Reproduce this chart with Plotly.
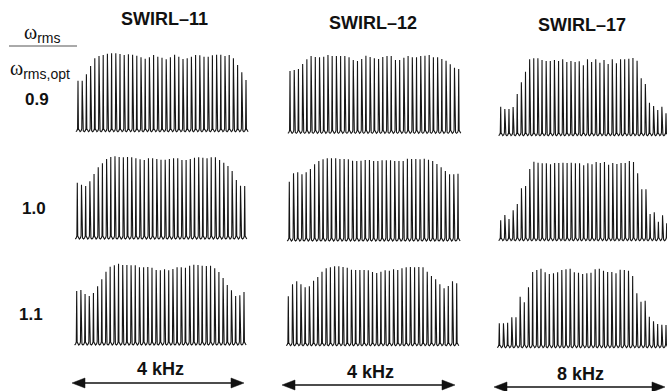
import plotly.graph_objects as go

# ---------------- data: peak amplitudes (a.u.) ----------------
columns = ["SWIRL–11", "SWIRL–12", "SWIRL–17"]
ratios = ["0.9", "1.0", "1.1"]
spans = ["4 kHz", "4 kHz", "8 kHz"]

swirl11_r09 = [153,153,172,197,220,227,230,234,235,235,233,230,232,231,228,223,219,223,230,225,
               222,217,223,231,225,218,220,225,230,229,225,225,229,231,231,227,230,220,200,178,155]
swirl12_r09 = [187,190,193,208,222,232,229,228,230,235,232,232,232,232,228,220,217,223,233,229,
               225,223,229,232,232,220,220,227,232,228,228,232,233,235,228,228,223,218,207,197,193]
swirl17_r09 = [87,80,80,86,125,160,192,229,232,232,227,224,224,227,224,229,221,224,221,223,
               211,229,221,229,219,227,215,229,217,229,229,231,233,225,172,155,99,89,77,87,67]
swirl11_r10 = [169,163,159,173,195,215,227,240,246,248,246,245,246,245,242,239,237,242,242,240,
               238,238,240,242,242,237,237,240,244,245,244,242,245,245,237,229,219,204,177,160,159]
swirl12_r10 = [178,203,206,200,206,216,230,240,245,248,248,248,246,246,245,241,240,241,243,243,
               240,240,242,242,242,240,240,240,247,246,246,245,247,244,240,231,221,210,200,200,202]
swirl17_r10 = [61,77,65,91,110,157,164,215,237,234,232,232,229,233,233,234,233,234,232,232,
               226,232,229,236,233,236,228,233,230,233,233,239,236,202,154,154,80,85,57,76,52]
swirl11_r11 = [162,165,153,147,156,176,197,220,235,239,244,240,240,239,239,233,233,234,232,225,
               224,227,224,228,233,233,232,238,241,240,238,237,238,230,219,201,180,164,147,149,159]
swirl12_r11 = [148,184,193,184,175,178,195,206,222,232,235,238,238,236,234,228,227,227,227,226,
               221,218,222,226,225,229,227,232,235,236,235,236,235,222,209,199,184,172,179,193,187]
swirl17_r11 = [73,73,75,91,91,153,136,181,227,233,237,226,221,223,226,233,235,237,226,225,
               221,223,225,235,237,231,227,227,223,234,233,231,215,163,138,141,93,79,71,69,68]

spectra = [
    [swirl11_r09, swirl12_r09, swirl17_r09],
    [swirl11_r10, swirl12_r10, swirl17_r10],
    [swirl11_r11, swirl12_r11, swirl17_r11],
]

# ---------------- layout geometry (pixels in the 667x391 page) ----------------
W, H = 667, 391
# (first-peak x, last-peak x, baseline y) per [row][col]
panel_px = [
    [(78.0, 246.0, 131.7), (290.0, 458.7, 133.3), (500.7, 666.0, 135.7)],
    [(77.3, 244.7, 239.0), (289.3, 458.0, 241.0), (500.7, 666.7, 240.7)],
    [(76.7, 244.0, 345.0), (288.3, 456.7, 345.7), (499.3, 666.0, 347.7)],
]
UNITS_PER_PX = 3.0
Y_LO, Y_HI = -6.0, 262.0


def spectrum_xy(heights):
    """Draw each peak of the comb as a narrow spike on a slightly rippled baseline."""
    xs, ys = [], []
    for i, h in enumerate(heights):
        xs += [i - 0.5, i - 0.25, i - 0.1, i, i + 0.1, i + 0.25]
        ys += [0, 3, 9, h, 9, 3]
    xs.append(len(heights) - 0.5)
    ys.append(0)
    return xs, ys


def px(x, y):
    return x / W, 1 - y / H


fig = go.Figure()
layout_axes = {}
k = 0
for r in range(3):
    for c in range(3):
        k += 1
        heights = spectra[r][c]
        L, R, base = panel_px[r][c]
        n = len(heights)
        s = (R - L) / (n - 1)
        d0 = max(L - 4, 0)
        d1 = min(R + 4, W)
        xr = [(d0 - L) / s, (d1 - L) / s]
        top_px = base - Y_HI / UNITS_PER_PX
        bot_px = base - Y_LO / UNITS_PER_PX
        xs, ys = spectrum_xy(heights)
        sfx = "" if k == 1 else str(k)
        fig.add_trace(go.Scatter(
            x=xs, y=ys, mode="lines",
            line=dict(color="#161616", width=1.1),
            xaxis="x" + sfx, yaxis="y" + sfx,
            hoverinfo="skip", showlegend=False,
        ))
        layout_axes["xaxis" + sfx] = dict(domain=[d0 / W, d1 / W], range=xr, visible=False,
                                          anchor="y" + sfx, fixedrange=True)
        layout_axes["yaxis" + sfx] = dict(domain=[1 - bot_px / H, 1 - top_px / H],
                                          range=[Y_LO, Y_HI], visible=False,
                                          anchor="x" + sfx, fixedrange=True)

fig.update_layout(**layout_axes)

annotations = []
shapes = []
BOLD_FAMILY = "Liberation Sans, Arial, sans-serif"


def label(text, x, y, size):
    xp, yp = px(x, y)
    annotations.append(dict(text="<b>%s</b>" % text, x=xp, y=yp, xref="paper", yref="paper",
                            showarrow=False, xanchor="center", yanchor="middle",
                            font=dict(family=BOLD_FAMILY, size=size, color="#111")))


# column titles
for name, (x, y) in zip(columns, [(164, 19), (373, 23), (582, 25)]):
    label(name, x, y, 18)

# row labels
for lab, (x, y) in zip(ratios, [(37, 100), (34, 208), (31, 314)]):
    label(lab, x, y, 17)

# frequency span labels
for lab, (x, y) in zip(spans, [(160, 369), (370, 372), (580, 374)]):
    label(lab, x, y, 18)

# double-headed arrows (line + filled triangular heads)
HEAD_L, HEAD_HW = 13, 5
for (x0, x1, y) in [(72, 244, 383), (282, 455, 385), (494, 665, 387)]:
    a0, b0 = px(x0 + HEAD_L - 1, y)
    a1, b1 = px(x1 - HEAD_L + 1, y)
    shapes.append(dict(type="line", xref="paper", yref="paper", x0=a0, x1=a1, y0=b0, y1=b1,
                       line=dict(color="#111", width=1.6)))
    for tip, back in [(x0, x0 + HEAD_L), (x1, x1 - HEAD_L)]:
        pts = [px(tip, y), px(back, y - HEAD_HW), px(back, y + HEAD_HW)]
        path = "M %f %f L %f %f L %f %f Z" % (pts[0][0], pts[0][1], pts[1][0], pts[1][1],
                                               pts[2][0], pts[2][1])
        shapes.append(dict(type="path", xref="paper", yref="paper", path=path,
                           fillcolor="#111", line=dict(color="#111", width=0.5)))

# omega ratio label
SERIF = "Liberation Serif, Times New Roman, serif"
SANS = "Liberation Sans, Arial, sans-serif"
for txt, (x, y) in [("rms", (42, 34)), ("rms,opt", (40, 70))]:
    xp, yp = px(x, y)
    annotations.append(dict(
        text="ω<sub><span style='font-family:%s'>%s</span></sub>" % (SANS, txt),
        x=xp, y=yp, xref="paper", yref="paper", showarrow=False,
        xanchor="center", yanchor="middle", font=dict(family=SERIF, size=20, color="#111")))

a0, b0 = px(9, 46)
a1, b1 = px(77, 46)
shapes.append(dict(type="line", xref="paper", yref="paper", x0=a0, x1=a1, y0=b0, y1=b1,
                   line=dict(color="#555", width=1)))

fig.update_layout(
    width=W, height=H,
    margin=dict(l=0, r=0, t=0, b=0),
    paper_bgcolor="white", plot_bgcolor="white",
    annotations=annotations,
    shapes=shapes,
    showlegend=False,
)

fig.write_html("out.html", config={"displayModeBar": False, "staticPlot": True},
               post_script="document.body.style.margin='0px';document.body.style.overflow='hidden';")
